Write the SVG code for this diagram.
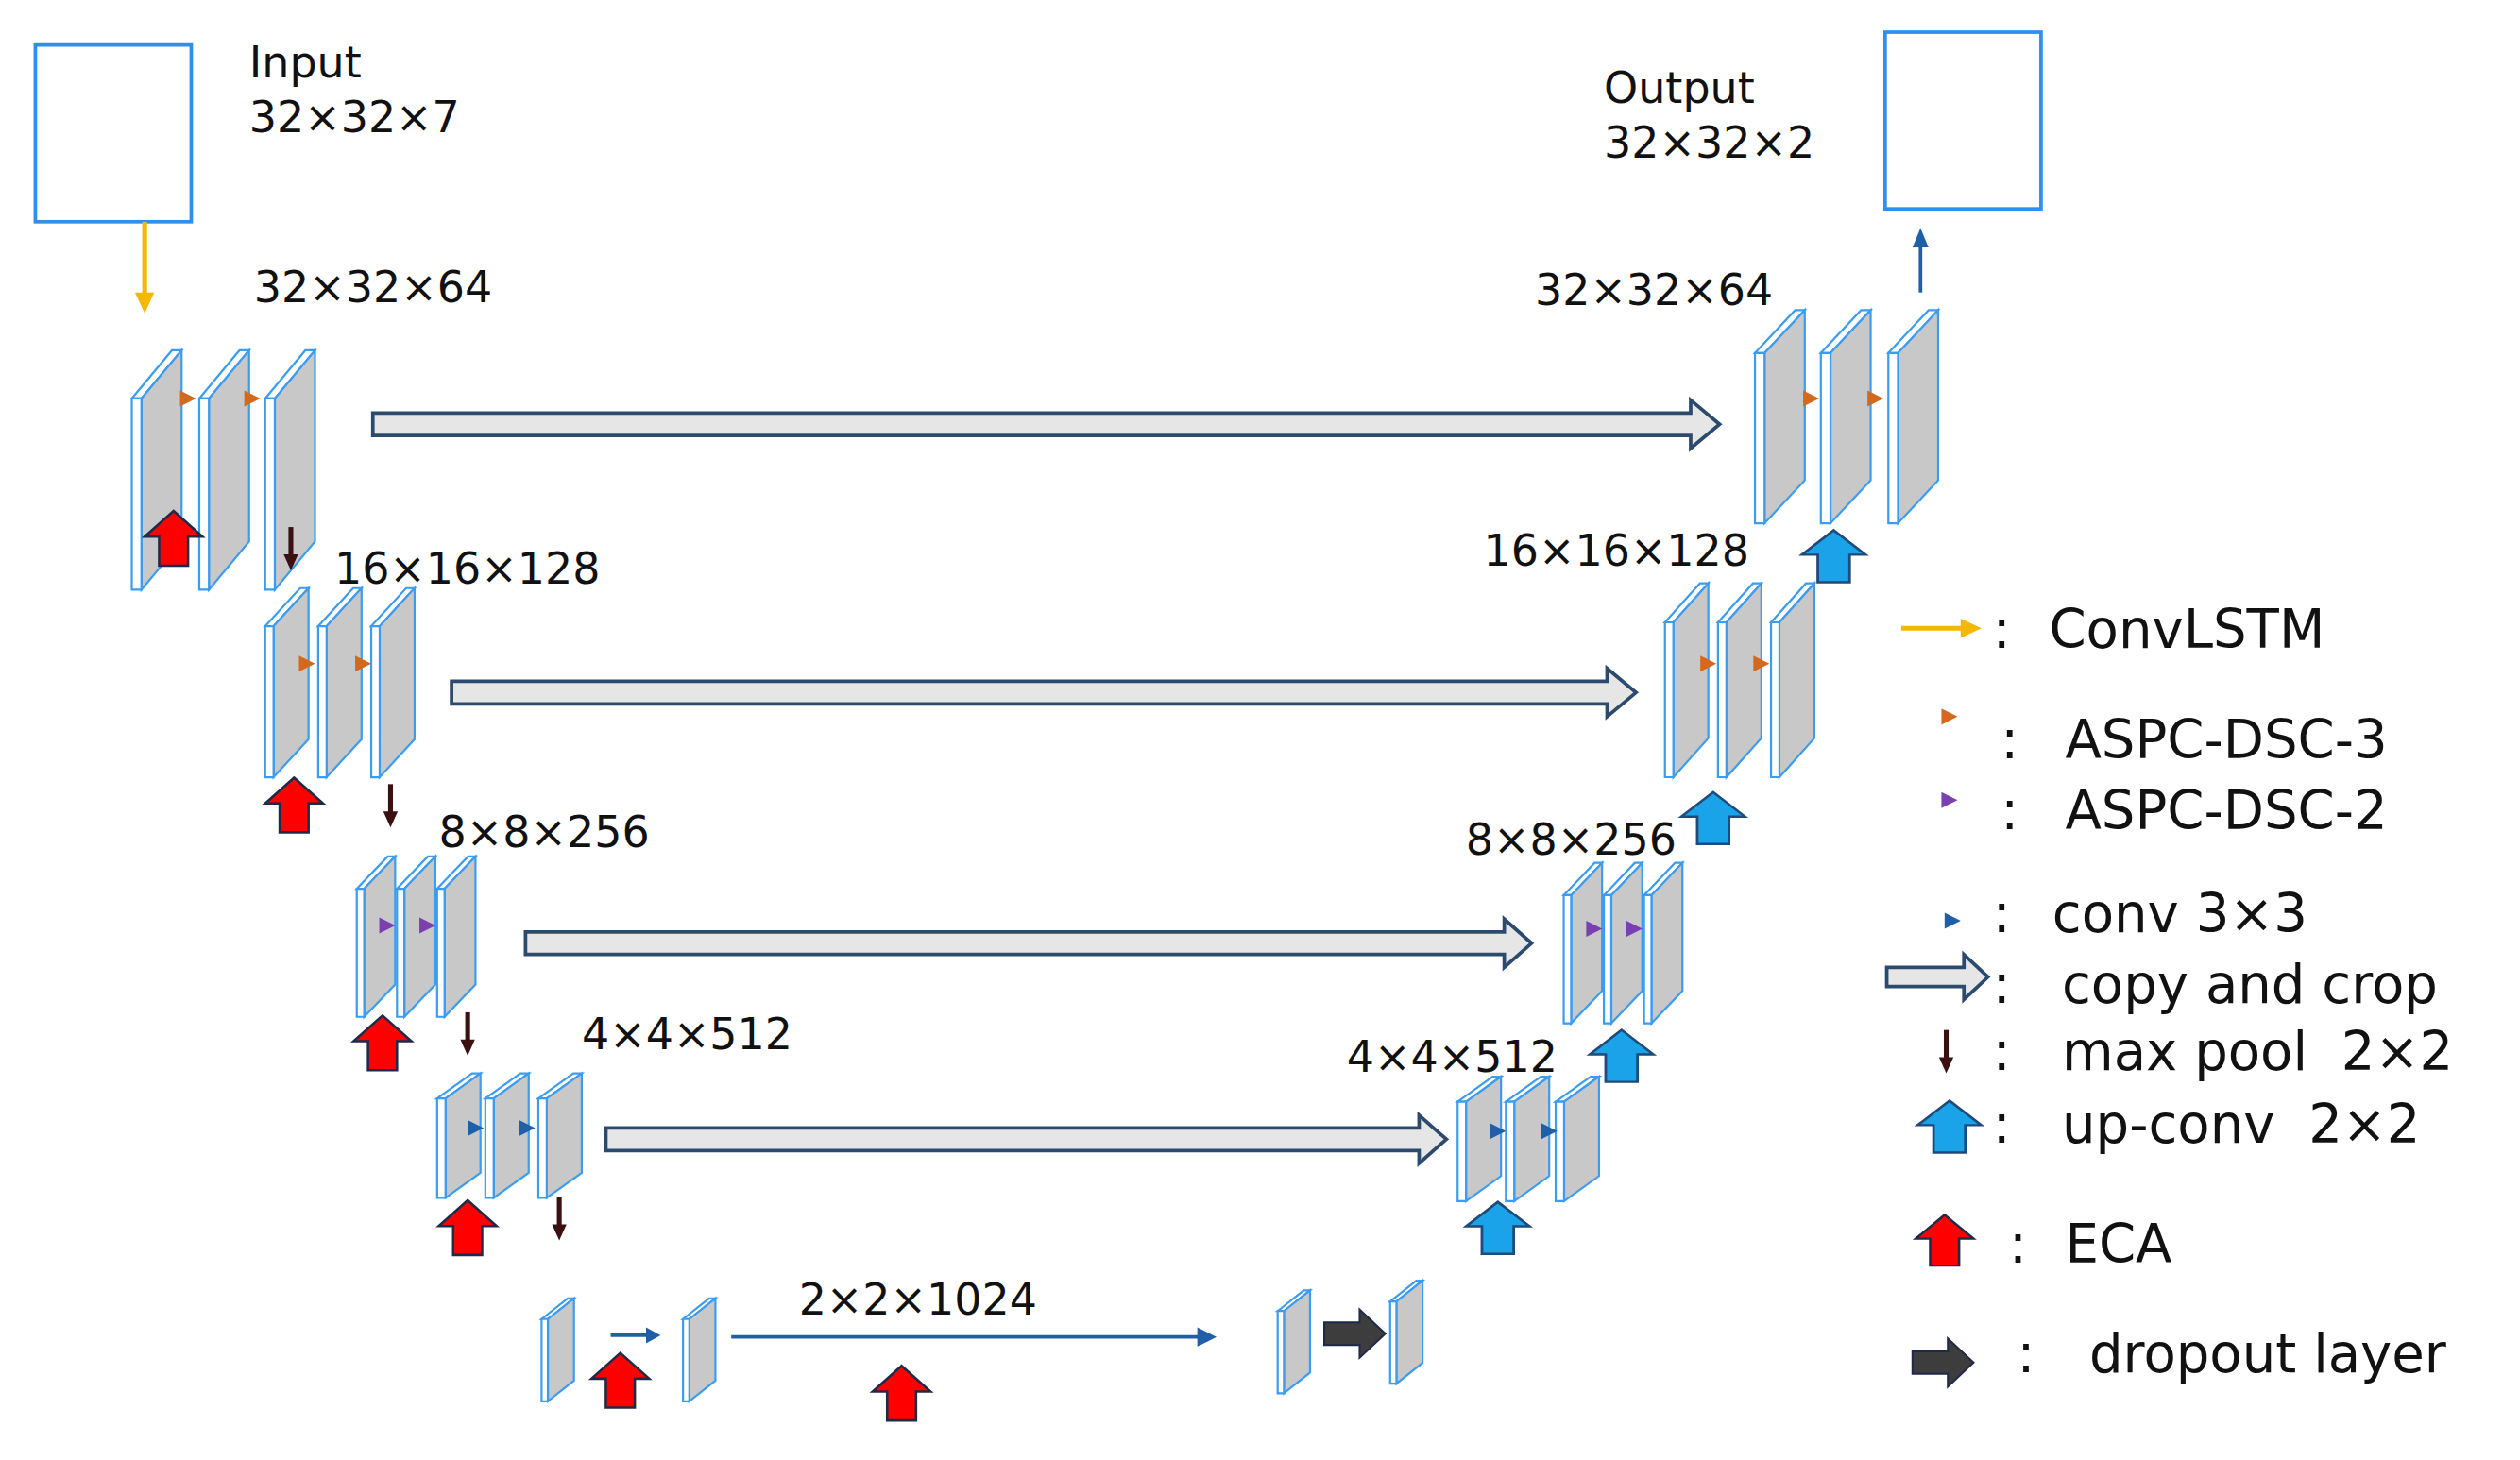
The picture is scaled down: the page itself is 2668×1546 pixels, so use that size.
<svg xmlns="http://www.w3.org/2000/svg" xmlns:xlink="http://www.w3.org/1999/xlink" width="2668" height="1546" viewBox="0 0 2668 1546">
<style>
.sf{fill:#fff;stroke:#3b9cf0;stroke-width:2.2;vector-effect:non-scaling-stroke}
.sg{fill:#c8c8c8;stroke:#3b9cf0;stroke-width:2.2;vector-effect:non-scaling-stroke}
.t{font-family:"DejaVu Sans",Verdana,sans-serif;fill:#111}
.lab{font-size:27px}
.leg{font-size:33px}
.copy{fill:#e6e6e6;stroke:#2c4a6e;stroke-width:2.2}
.red{fill:#f00;stroke:#1f2a4a;stroke-width:1.5}
.blue{fill:#1aa3e8;stroke:#1f4a7a;stroke-width:1.5}
.box{fill:#fff;stroke:#2f8fef;stroke-width:2.2}
</style>
<defs>
<g id="slab"><polygon class="sf" points="0,30 25,0 31,0 6,30"/><polygon class="sg" points="6,30 31,0 31,119 6,149"/><rect class="sf" x="0" y="30" width="6" height="119"/></g>
<path id="up" d="M0,0 L18,16 H9 V34 H-9 V16 H-18 Z"/>
<g id="pool"><line x1="0" y1="0" x2="0" y2="20" stroke="#3a1010" stroke-width="3"/><polygon points="-4.5,17 4.5,17 0,27" fill="#3a1010"/></g>
<polygon id="tri" points="0,-5 10,0 0,5"/>
</defs>
<rect width="2668" height="1546" fill="#fff"/>
<g transform="scale(1.7015)">
<g id="input"><rect class="box" x="22" y="28" width="97" height="110"/>
<text class="t lab" x="155" y="48">Input</text><text class="t lab" x="155" y="82">32×32×7</text></g>
<g id="output"><rect class="box" x="1173" y="20" width="97" height="110"/>
<text class="t lab" x="998" y="64">Output</text><text class="t lab" x="998" y="98">32×32×2</text></g>

<g id="enc1"><use href="#slab" transform="translate(82,218)"/><use href="#slab" transform="translate(124,218)"/><use href="#slab" transform="translate(165,218)"/>
<text class="t lab" x="158" y="188">32×32×64</text></g>
<g id="enc2"><use href="#slab" transform="translate(165,366) scale(.87,.79)"/><use href="#slab" transform="translate(198,366) scale(.87,.79)"/><use href="#slab" transform="translate(231,366) scale(.87,.79)"/>
<text class="t lab" x="208" y="363">16×16×128</text></g>
<g id="enc3"><use href="#slab" transform="translate(222,533) scale(.77,.67)"/><use href="#slab" transform="translate(247,533) scale(.77,.67)"/><use href="#slab" transform="translate(272,533) scale(.77,.67)"/>
<text class="t lab" x="273" y="527">8×8×256</text></g>
<g id="enc4"><use href="#slab" transform="translate(272,668) scale(.87,.52)"/><use href="#slab" transform="translate(302,668) scale(.87,.52)"/><use href="#slab" transform="translate(335,668) scale(.87,.52)"/>
<text class="t lab" x="362" y="653">4×4×512</text></g>
<g id="bottom"><use href="#slab" transform="translate(337,808) scale(.65,.43)"/><use href="#slab" transform="translate(425,808) scale(.65,.43)"/>
<text class="t lab" x="497" y="818">2×2×1024</text></g>
<g id="decb"><use href="#slab" transform="translate(795,803) scale(.65,.43)"/><use href="#slab" transform="translate(865,797) scale(.65,.43)"/></g>
<g id="dec4"><use href="#slab" transform="translate(907,670) scale(.87,.52)"/><use href="#slab" transform="translate(937,670) scale(.87,.52)"/><use href="#slab" transform="translate(968,670) scale(.87,.52)"/>
<text class="t lab" x="838" y="667">4×4×512</text></g>
<g id="dec3"><use href="#slab" transform="translate(973,537) scale(.77,.67)"/><use href="#slab" transform="translate(998,537) scale(.77,.67)"/><use href="#slab" transform="translate(1023,537) scale(.77,.67)"/>
<text class="t lab" x="912" y="532">8×8×256</text></g>
<g id="dec2"><use href="#slab" transform="translate(1036,363) scale(.87,.81)"/><use href="#slab" transform="translate(1069,363) scale(.87,.81)"/><use href="#slab" transform="translate(1102,363) scale(.87,.81)"/>
<text class="t lab" x="923" y="352">16×16×128</text></g>
<g id="dec1"><use href="#slab" transform="translate(1092,193) scale(1,.89)"/><use href="#slab" transform="translate(1133,193) scale(1,.89)"/><use href="#slab" transform="translate(1175,193) scale(1,.89)"/>
<text class="t lab" x="955" y="190">32×32×64</text></g>

<g id="connectors">
<line x1="90" y1="138" x2="90" y2="184" stroke="#f5b800" stroke-width="3"/><polygon points="84,182 96,182 90,195" fill="#f5b800"/>
<line x1="1195" y1="182" x2="1195" y2="152" stroke="#1f5fa8" stroke-width="2.2"/><polygon points="1190,154 1200,154 1195,142" fill="#1f5fa8"/>
<g fill="#d2691e"><use href="#tri" x="112" y="248"/><use href="#tri" x="152" y="248"/><use href="#tri" x="186" y="413"/><use href="#tri" x="221" y="413"/>
<use href="#tri" x="1122" y="248"/><use href="#tri" x="1162" y="248"/><use href="#tri" x="1058" y="413"/><use href="#tri" x="1091" y="413"/></g>
<g fill="#7b3fb0"><use href="#tri" x="236" y="576"/><use href="#tri" x="261" y="576"/><use href="#tri" x="987" y="578"/><use href="#tri" x="1012" y="578"/></g>
<g fill="#1f5fa8"><use href="#tri" x="291" y="702"/><use href="#tri" x="323" y="702"/><use href="#tri" x="927" y="704"/><use href="#tri" x="959" y="704"/></g>
<path class="copy" d="M232,257 H1052 V249 L1070,264 L1052,279 V271 H232 Z"/>
<path class="copy" d="M281,424 H1000 V416 L1018,431 L1000,446 V438 H281 Z"/>
<path class="copy" d="M327,580 H936 V572 L953,587 L936,602 V594 H327 Z"/>
<path class="copy" d="M377,702 H883 V694 L900,709 L883,724 V716 H377 Z"/>
<use href="#pool" x="181" y="328"/><use href="#pool" x="243" y="488"/><use href="#pool" x="291" y="630"/><use href="#pool" x="348" y="745"/>
<g class="red"><use href="#up" x="108" y="318"/><use href="#up" x="183" y="484"/><use href="#up" x="238" y="632"/><use href="#up" x="291" y="747"/><use href="#up" x="386" y="842"/><use href="#up" x="561" y="850"/></g>
<g class="blue"><use href="#up" transform="translate(1141,330) scale(1.1,.95)"/><use href="#up" transform="translate(1066,493) scale(1.1,.95)"/><use href="#up" transform="translate(1009,641) scale(1.1,.95)"/><use href="#up" transform="translate(932,748) scale(1.1,.95)"/></g>
<line x1="380" y1="831" x2="404" y2="831" stroke="#1f5fa8" stroke-width="2.2"/><polygon points="402,826 411,831 402,836" fill="#1f5fa8"/>
<line x1="455" y1="832" x2="748" y2="832" stroke="#1f5fa8" stroke-width="2.2"/><polygon points="745,826 757,832 745,838" fill="#1f5fa8"/>
<path d="M824,823 H846 V815 L862,830 L846,845 V837 H824 Z" fill="#3d3d3d" stroke="#1f2a4a" stroke-width="1.2"/>
</g>

<g id="legend">
<line x1="1183" y1="391" x2="1222" y2="391" stroke="#f5b800" stroke-width="3"/><polygon points="1220,385 1233,391 1220,397" fill="#f5b800"/>
<text class="t leg" x="1240" y="403">:</text><text class="t leg" x="1275" y="403">ConvLSTM</text>
<use href="#tri" x="1208" y="446" fill="#d2691e"/>
<text class="t leg" x="1245" y="472">:</text><text class="t leg" x="1285" y="472">ASPC-DSC-3</text>
<use href="#tri" x="1208" y="498" fill="#7b3fb0"/>
<text class="t leg" x="1245" y="516">:</text><text class="t leg" x="1285" y="516">ASPC-DSC-2</text>
<use href="#tri" x="1210" y="573" fill="#1f5fa8"/>
<text class="t leg" x="1240" y="580">:</text><text class="t leg" x="1277" y="580" xml:space="preserve">conv 3×3</text>
<path class="copy" d="M1174,602 H1222 V594 L1237,608 L1222,622 V614 H1174 Z"/>
<text class="t leg" x="1240" y="624">:</text><text class="t leg" x="1283" y="624">copy and crop</text>
<use href="#pool" x="1211" y="641"/>
<text class="t leg" x="1240" y="666">:</text><text class="t leg" x="1283" y="666" xml:space="preserve">max pool  2×2</text>
<use href="#up" class="blue" transform="translate(1213,685) scale(1.1,.95)"/>
<text class="t leg" x="1240" y="711">:</text><text class="t leg" x="1283" y="711" xml:space="preserve">up-conv  2×2</text>
<use href="#up" class="red" transform="translate(1210,756) scale(1,.93)"/>
<text class="t leg" x="1250" y="786">:</text><text class="t leg" x="1285" y="786">ECA</text>
<path d="M1190,841 H1212 V833 L1228,848 L1212,863 V855 H1190 Z" fill="#3d3d3d" stroke="#1f2a4a" stroke-width="1.2"/>
<text class="t leg" x="1255" y="854">:</text><text class="t leg" x="1300" y="854">dropout layer</text>
</g>
</g>
</svg>
